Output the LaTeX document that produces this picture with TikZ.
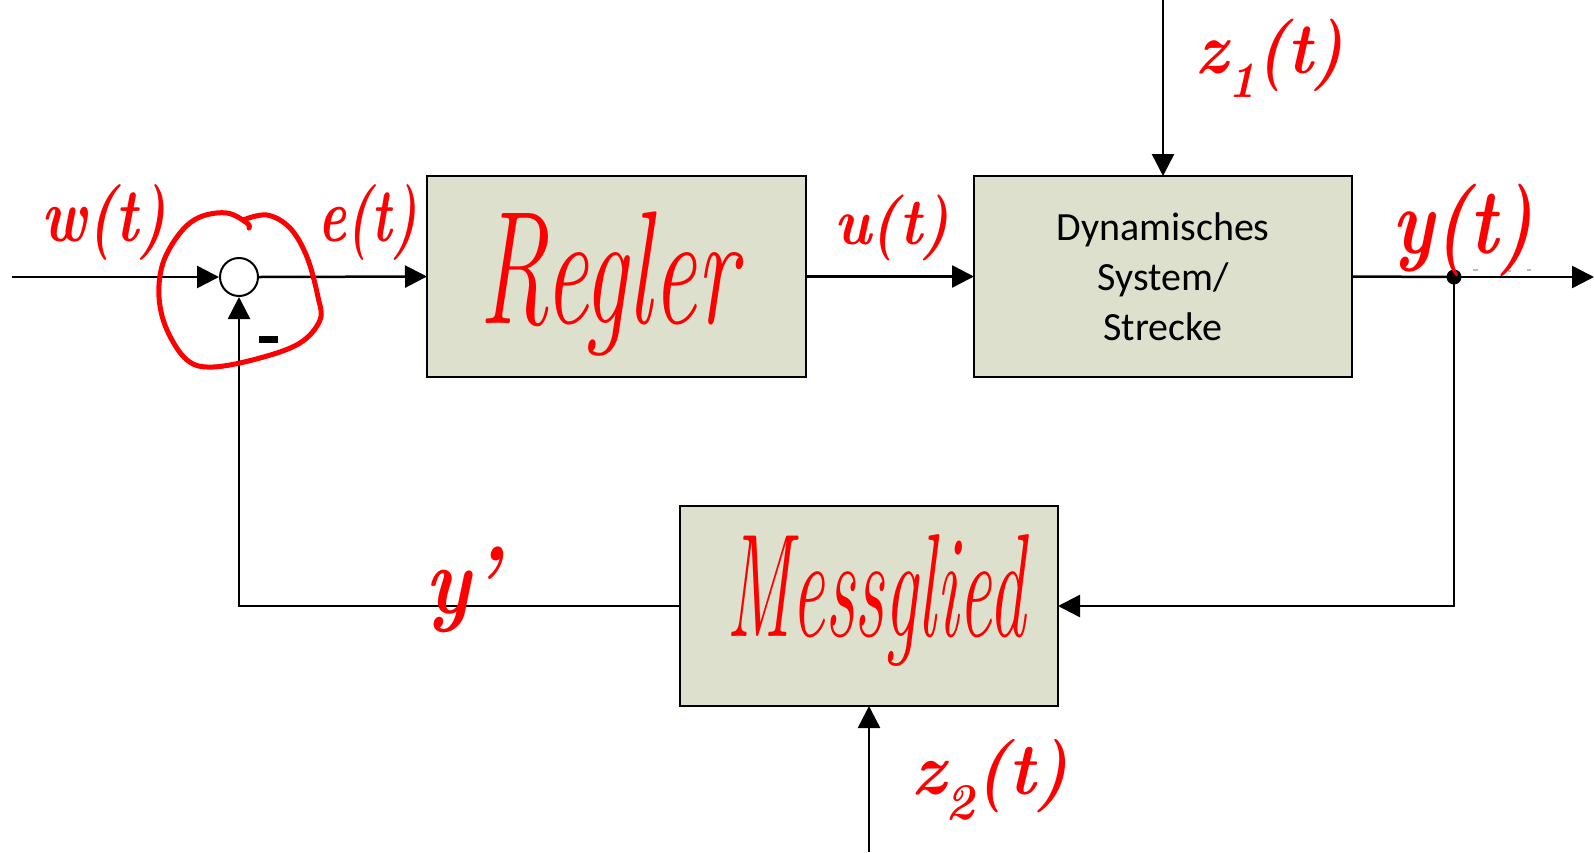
\documentclass[tikz,border=0pt]{standalone}
\usepackage{fontspec}
\newfontfamily\boxfont{Carlito}
\usetikzlibrary{arrows.meta}
\definecolor{blockfill}{RGB}{221,224,204}
\definecolor{ink}{RGB}{255,0,0}

\begin{document}
\begin{tikzpicture}[x=1pt,y=-1pt,
  block/.style={draw, line width=2pt, fill=blockfill, rectangle, inner sep=0pt, outer sep=0pt},
  sig/.style={line width=2.5pt, -{Triangle[length=22pt,width=22pt]}},
  wire/.style={line width=2.5pt},
  hand/.style={text=ink, font=\itshape, inner sep=0pt},
  pen/.style={draw=ink, line width=5pt, line cap=round, line join=round}]
\useasboundingbox[fill=white] (0,0) rectangle (1595,852);

% blocks
\node[block, minimum width=379pt, minimum height=201pt] (regler) at (616.5,276.5) {};
\node[block, minimum width=378pt, minimum height=201pt, align=center,
      font={\boxfont\fontsize{40}{50}\selectfont}] (strecke) at (1163,276.5)
      {Dynamisches\\System/\\Strecke};
\node[block, minimum width=378pt, minimum height=200pt] (mess) at (869,606) {};

% summing junction
\node[draw, circle, line width=2pt, fill=white, minimum size=38pt, inner sep=0pt] (sum) at (239,277) {};
\node[fill, rectangle, minimum width=19pt, minimum height=7pt, inner sep=0pt] (minus) at (268,339) {};

% free ends and branch point
\coordinate (win) at (12,277);
\coordinate (yout) at (1594,277);
\coordinate (branch) at (1454,277);
\coordinate (z1in) at (1163,0);
\coordinate (z2in) at (869,852);

% signal lines
\draw[sig] (win) -- (sum.west);
\draw[sig] (sum.east) -- (regler.west);
\draw[sig] (regler.east) -- (strecke.west);
\draw[wire] (strecke.east) -- (branch);
\draw[sig] (branch) -- (yout);
\draw[sig] (branch) |- (mess.east);
\draw[sig] (mess.west) -| (sum.south);
\draw[sig] (z1in) -- (strecke.north);
\draw[sig] (z2in) -- (mess.south);
\fill (branch) circle (7.5);

% faint marks right of the branch point
\draw[gray!55, line width=1.5pt] (1473,270) -- (1478,270) (1508,271) -- (1511,271) (1527,270) -- (1531,270);

% handwritten annotations
\draw[pen] plot[smooth, tension=0.6] coordinates {
  (243,220) (267,215) (290,228) (307,257) (318,297) (320,320) (300,343)
  (260,358) (213,367) (187,360) (167,330) (159,297) (163,263) (180,233)
  (200,217) (227,213) (247,223) (249,228)};

\node[hand] (lw) at (104,222) {\fontsize{66}{70}\selectfont\bfseries\scalebox{0.9}[1.15]{w(t)}};
\node[hand] (le) at (368,222) {\fontsize{66}{70}\selectfont\bfseries\scalebox{0.8}[1.15]{e(t)}};
\node[hand] (lu) at (892,228) {\fontsize{66}{70}\selectfont\bfseries\scalebox{0.9}[1]{u(t)}};
\node[hand] (ly) at (1463,230) {\fontsize{74}{78}\selectfont\bfseries\scalebox{1}[1.25]{y(t)}};
\node[hand] (lz1) at (1270,58) {\fontsize{66}{70}\selectfont\bfseries\scalebox{1}[1.1]{z\textsubscript{1}(t)}};
\node[hand] (lyp) at (462,590) {\fontsize{80}{84}\selectfont\bfseries\scalebox{1}[1.2]{y'}};
\node[hand] (lz2) at (990,780) {\fontsize{70}{74}\selectfont\bfseries\scalebox{1}[1.05]{z\textsubscript{2}(t)}};
\node[hand] (lregler) at (608,284) {\fontsize{140}{150}\selectfont\scalebox{0.7}[1.15]{Regler}};
\node[hand] (lmess) at (876,600) {\fontsize{140}{150}\selectfont\scalebox{0.53}[1.05]{Messglied}};
\end{tikzpicture}
\end{document}
